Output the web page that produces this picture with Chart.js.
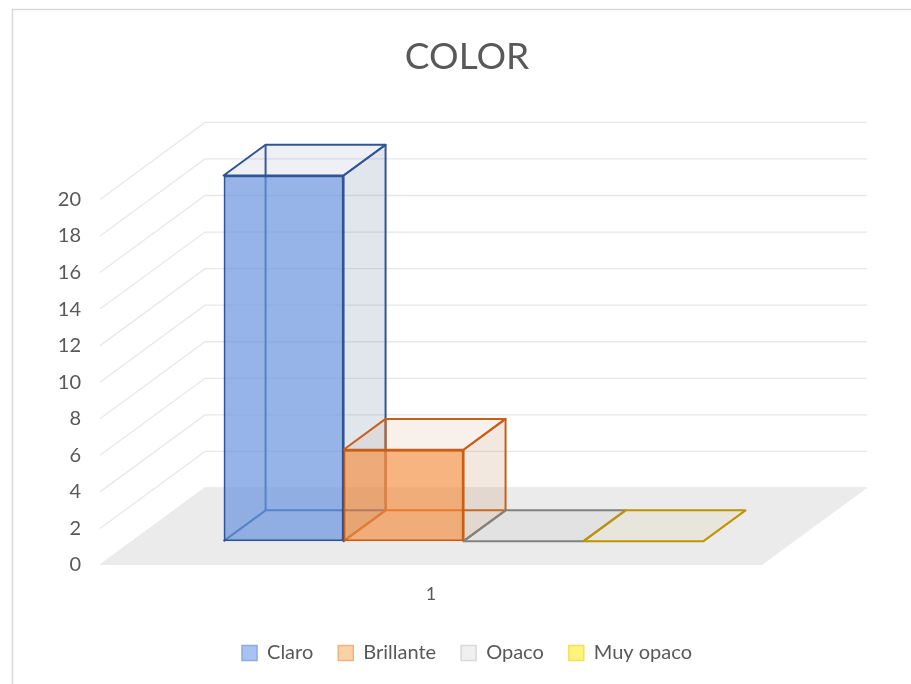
<!DOCTYPE html>
<html lang="es">
<head>
    <meta charset="UTF-8">
    <title>COLOR</title>
    <style>
        html, body {
            margin: 0;
            padding: 0;
            background: #ffffff;
        }

        #wrap {
            width: 911px;
            height: 684px;
        }
    </style>
</head>
<body>
    <div id="wrap"><canvas id="colorChart" width="911" height="684"></canvas></div>

    <script src="https://cdn.jsdelivr.net/npm/chart.js"></script>
    <script>
        // Values
        const categories = ['1'];
        const seriesNames = ['Claro', 'Brillante', 'Opaco', 'Muy opaco'];
        const claroValues = [20];
        const brillanteValues = [5];
        const opacoValues = [0];
        const muyOpacoValues = [0];
        const yMin = 0, yMax = 20, yStep = 2;

        const seriesValues = [claroValues, brillanteValues, opacoValues, muyOpacoValues];

        // Styles per series: front face, edges, top face, side face, legend box
        const frontColors = ['rgba(106,148,222,0.7)', 'rgba(244,140,60,0.65)', 'rgba(150,150,150,0.1)', 'rgba(191,144,0,0.06)'];
        const edgeColors = ['#2f5597', '#c95f17', '#828282', '#c09300'];
        const topColors = ['rgba(120,135,170,0.12)', 'rgba(190,140,100,0.13)', 'rgba(150,150,150,0.1)', 'rgba(191,144,0,0.06)'];
        const sideColors = ['rgba(120,135,170,0.22)', 'rgba(190,140,100,0.2)', 'rgba(150,150,150,0.1)', 'rgba(191,144,0,0.06)'];
        const legendFill = ['#a6c3f4', '#fad2a6', '#f0f0f0', '#fff47a'];
        const legendEdge = ['#8eaadb', '#f4b183', '#d9d9d9', '#ffd966'];

        const textColor = '#595959';
        const fontFamily = 'Lato, "Open Sans", sans-serif';

        // Fake 3D: depth of the whole floor, and where the bars sit inside it
        const DEPTH_X = 105, DEPTH_Y = -77;
        const BAR_FRONT = 0.31, BAR_BACK = 0.71;

        const frame = {
            id: 'frame',
            beforeDraw(chart) {
                const ctx = chart.ctx;
                ctx.save();
                ctx.strokeStyle = '#d9d9d9';
                ctx.lineWidth = 1.5;
                ctx.beginPath();
                ctx.moveTo(12.5, chart.height);
                ctx.lineTo(12.5, 9.5);
                ctx.lineTo(chart.width, 9.5);
                ctx.stroke();
                ctx.restore();
            }
        };

        function edge(ctx, x1, y1, x2, y2) {
            ctx.beginPath();
            ctx.moveTo(x1, y1);
            ctx.lineTo(x2, y2);
            ctx.stroke();
        }

        const box3d = {
            id: 'box3d',
            beforeDatasetsDraw(chart) {
                const ctx = chart.ctx;
                const area = chart.chartArea;
                const yScale = chart.scales.y;
                ctx.save();

                // walls: gridlines run up the side wall and along the back wall
                ctx.strokeStyle = '#e8e8e8';
                ctx.lineWidth = 1.3;
                yScale.ticks.forEach(t => {
                    const py = yScale.getPixelForValue(t.value);
                    ctx.beginPath();
                    ctx.moveTo(area.left, py);
                    ctx.lineTo(area.left + DEPTH_X, py + DEPTH_Y);
                    ctx.lineTo(area.right + DEPTH_X, py + DEPTH_Y);
                    ctx.stroke();
                });

                // floor
                const py0 = yScale.getPixelForValue(yMin);
                ctx.fillStyle = '#ebebeb';
                ctx.beginPath();
                ctx.moveTo(area.left, py0);
                ctx.lineTo(area.right, py0);
                ctx.lineTo(area.right + DEPTH_X, py0 + DEPTH_Y);
                ctx.lineTo(area.left + DEPTH_X, py0 + DEPTH_Y);
                ctx.closePath();
                ctx.fill();

                const fx = DEPTH_X * BAR_FRONT, fy = DEPTH_Y * BAR_FRONT;
                const dx = DEPTH_X * (BAR_BACK - BAR_FRONT), dy = DEPTH_Y * (BAR_BACK - BAR_FRONT);

                ctx.lineJoin = 'round';
                ctx.lineWidth = 2;
                chart.data.datasets.forEach((ds, i) => {
                    chart.getDatasetMeta(i).data.forEach(bar => {
                        const p = bar.getProps(['x', 'y', 'base', 'width'], true);
                        const l = p.x - p.width / 2 + fx, r = p.x + p.width / 2 + fx;
                        const t = Math.min(p.y, p.base) + fy, b = Math.max(p.y, p.base) + fy;
                        ctx.strokeStyle = edgeColors[i];

                        // hidden edges (seen through the front face)
                        if (b - t > 0.5) {
                            edge(ctx, l + dx, t + dy, l + dx, b + dy);
                            edge(ctx, l + dx, b + dy, r + dx, b + dy);
                            edge(ctx, l, b, l + dx, b + dy);

                            // right side face
                            ctx.fillStyle = sideColors[i];
                            ctx.beginPath();
                            ctx.moveTo(r, t);
                            ctx.lineTo(r + dx, t + dy);
                            ctx.lineTo(r + dx, b + dy);
                            ctx.lineTo(r, b);
                            ctx.closePath();
                            ctx.fill();
                            ctx.stroke();
                        }

                        // top face
                        ctx.fillStyle = topColors[i];
                        ctx.beginPath();
                        ctx.moveTo(l, t);
                        ctx.lineTo(r, t);
                        ctx.lineTo(r + dx, t + dy);
                        ctx.lineTo(l + dx, t + dy);
                        ctx.closePath();
                        ctx.fill();
                        ctx.stroke();
                    });
                });

                ctx.restore();

                // front faces are drawn by Chart.js, pushed into the floor
                ctx.save();
                ctx.translate(fx, fy);
            },
            afterDatasetsDraw(chart) {
                chart.ctx.restore();
            }
        };

        const ctx = document.getElementById('colorChart').getContext('2d');
        const colorChart = new Chart(ctx, {
            type: 'bar',
            data: {
                labels: categories,
                datasets: seriesNames.map((name, i) => ({
                    label: name,
                    data: seriesValues[i],
                    backgroundColor: frontColors[i],
                    borderColor: edgeColors[i],
                    borderWidth: 2,
                    borderSkipped: false,
                    categoryPercentage: 0.725,
                    barPercentage: 1,
                    clip: false
                }))
            },
            options: {
                responsive: false,
                animation: false,
                events: [],
                layout: {
                    padding: { left: 23, top: 0, right: 0, bottom: 11 }
                },
                scales: {
                    x: {
                        grid: { display: false },
                        border: { display: false },
                        ticks: {
                            color: textColor,
                            font: { family: fontFamily, size: 18 },
                            padding: 10
                        },
                        afterFit: s => { s.height = 53; }
                    },
                    y: {
                        min: yMin,
                        max: yMax,
                        grid: { display: false },
                        border: { display: false },
                        ticks: {
                            stepSize: yStep,
                            color: textColor,
                            font: { family: fontFamily, size: 20 },
                            padding: 11
                        },
                        afterFit: s => { s.width = 77; }
                    },
                    yPad: {
                        type: 'linear',
                        position: 'right',
                        grid: { display: false },
                        border: { display: false },
                        ticks: { display: false },
                        afterFit: s => { s.width = 149; }
                    }
                },
                plugins: {
                    title: {
                        display: true,
                        text: 'COLOR',
                        color: textColor,
                        font: { family: fontFamily, size: 37, weight: 'normal' },
                        padding: { top: 35, bottom: 120 }
                    },
                    legend: {
                        position: 'bottom',
                        labels: {
                            boxWidth: 15,
                            boxHeight: 15,
                            padding: 25,
                            color: textColor,
                            font: { family: fontFamily, size: 20 },
                            generateLabels: chart => seriesNames.map((name, i) => ({
                                text: name,
                                fillStyle: legendFill[i],
                                strokeStyle: legendEdge[i],
                                lineWidth: 1.5,
                                fontColor: textColor,
                                hidden: false,
                                datasetIndex: i
                            }))
                        }
                    },
                    tooltip: { enabled: false }
                }
            },
            plugins: [frame, box3d]
        });
    </script>
</body>
</html>
